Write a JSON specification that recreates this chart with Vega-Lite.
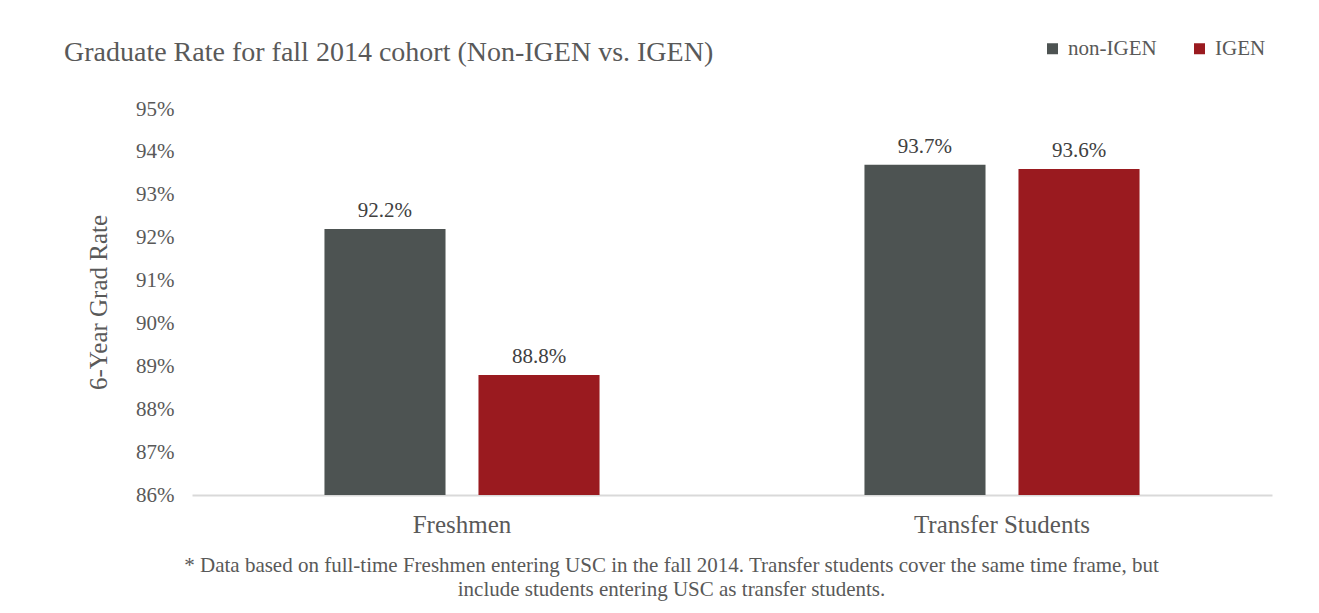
{
  "$schema": "https://vega.github.io/schema/vega-lite/v6.json",
  "autosize": {"type": "none"},
  "padding": {"left": 192, "top": 109, "right": 47, "bottom": 118},
  "width": 1080,
  "height": 386,
  "background": "white",
  "config": {
    "font": "Liberation Serif",
    "view": {"stroke": null}
  },
  "title": {
    "text": "Graduate Rate for fall 2014 cohort (Non-IGEN vs. IGEN)",
    "anchor": "start",
    "frame": "group",
    "dx": -128,
    "dy": 51,
    "fontSize": 28,
    "fontWeight": "normal",
    "color": "#595959",
    "baseline": "alphabetic",
    "offset": 0
  },
  "data": {
    "values": [
      {"group": "Freshmen", "type": "non-IGEN", "rate": 0.922},
      {"group": "Freshmen", "type": "IGEN", "rate": 0.888},
      {"group": "Transfer Students", "type": "non-IGEN", "rate": 0.937},
      {"group": "Transfer Students", "type": "IGEN", "rate": 0.936}
    ]
  },
  "encoding": {
    "x": {
      "field": "group",
      "type": "nominal",
      "sort": ["Freshmen", "Transfer Students"],
      "scale": {"paddingInner": 0, "paddingOuter": 0},
      "axis": {
        "labelAngle": 0,
        "labelFontSize": 25,
        "labelColor": "#595959",
        "labelPadding": 17,
        "ticks": false,
        "domainColor": "#D9D9D9",
        "domainWidth": 2,
        "title": ["* Data based on full-time Freshmen entering USC in the fall 2014. Transfer students cover the same time frame, but", "include students entering USC as transfer students."],
        "titleFontSize": 21,
        "titleFontWeight": "normal",
        "titleColor": "#595959",
        "titleLineHeight": 24,
        "titleX": 479,
        "titleY": 76,
        "titleAlign": "center",
        "titleBaseline": "alphabetic"
      }
    },
    "xOffset": {
      "field": "type",
      "type": "nominal",
      "sort": ["non-IGEN", "IGEN"],
      "scale": {"paddingInner": 0.214, "paddingOuter": 0.86}
    },
    "y": {
      "field": "rate",
      "type": "quantitative",
      "scale": {"domain": [0.86, 0.95], "zero": false, "nice": false},
      "axis": {
        "values": [0.86, 0.87, 0.88, 0.89, 0.9, 0.91, 0.92, 0.93, 0.94, 0.95],
        "format": ".0%",
        "domain": false,
        "ticks": false,
        "grid": false,
        "labelFontSize": 21,
        "labelColor": "#595959",
        "labelPadding": 18,
        "title": "6-Year Grad Rate",
        "titleFontSize": 25,
        "titleFontWeight": "normal",
        "titleColor": "#595959",
        "titlePadding": 24
      }
    }
  },
  "layer": [
    {
      "mark": {"type": "bar"},
      "encoding": {
        "y2": {"datum": 0.86},
        "color": {
          "field": "type",
          "type": "nominal",
          "sort": ["non-IGEN", "IGEN"],
          "scale": {"domain": ["non-IGEN", "IGEN"], "range": ["#4D5352", "#9A1A1F"]},
          "legend": {
            "title": null,
            "orient": "none",
            "direction": "horizontal",
            "legendX": 850,
            "legendY": -71,
            "symbolType": "square",
            "symbolSize": 121,
            "symbolStrokeWidth": 0,
            "labelFontSize": 21,
            "labelColor": "#595959",
            "labelOffset": 5,
            "columnPadding": 32
          }
        }
      }
    },
    {
      "mark": {"type": "text", "baseline": "alphabetic", "dy": -12, "fontSize": 21, "color": "#404040"},
      "encoding": {
        "text": {"field": "rate", "type": "quantitative", "format": ".1%"}
      }
    }
  ]
}
